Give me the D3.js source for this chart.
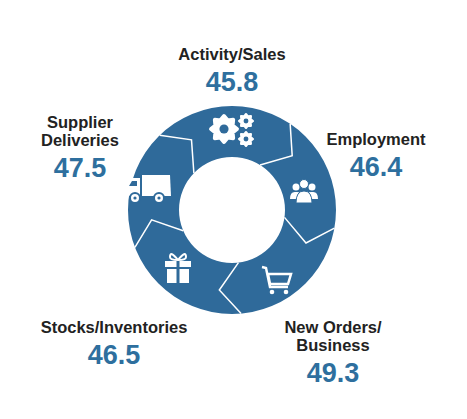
<!DOCTYPE html><html><head><meta charset="utf-8"><script src="https://d3js.org/d3.v7.min.js"></script>
<style>body{margin:0;background:#fff}</style></head><body><svg width="467" height="419"></svg>
<script>
const categories=["Activity/Sales","Employment","New Orders/Business","Stocks/Inventories","Supplier Deliveries"];
const values=[45.8,46.4,49.3,46.5,47.5];
const boundaries=[-45,33,99,174,248];
const labelLines=[["Activity/Sales"],["Employment"],["New Orders/","Business"],["Stocks/Inventories"],["Supplier","Deliveries"]];
const labelPos=[[232,60,"middle"],[376,145,"middle"],[333,333,"middle"],[114,333,"middle"],[80,128,"middle"]];
const svg=d3.select("svg");
const cx=232,cy=210,R=104,r=53,col="#2f6a9a";
const g=svg.append("g").attr("transform",`translate(${cx},${cy})`);
g.append("path").attr("d",d3.arc()({innerRadius:r,outerRadius:R,startAngle:0,endAngle:2*Math.PI})).attr("fill",col);
const rad=d=>d*Math.PI/180, pt=(a,rr)=>[rr*Math.sin(rad(a)),-rr*Math.cos(rad(a))];
boundaries.forEach(b=>{
  g.append("path").attr("d",d3.line()([pt(b-1,r),pt(b+15,81),pt(b+1,R)])).attr("fill","none").attr("stroke","#fff").attr("stroke-width",1.5);
});
const w="#fff";
function gear(x,y,s){const n=8,pts=[];for(let i=0;i<n*2;i++){const a=i*Math.PI/n;const rr=(i%2?0.72:1)*s;pts.push([x+rr*Math.cos(a),y+rr*Math.sin(a)]);}
 svg.append("path").attr("d",d3.line().curve(d3.curveLinearClosed)(pts)).attr("fill",w).attr("stroke",w).attr("stroke-width",s*0.3).attr("stroke-linejoin","round");
 svg.append("circle").attr("cx",x).attr("cy",y).attr("r",s*0.35).attr("fill",col);}
gear(224,129,13);gear(246,121,7);gear(246,139,7);
// people
[[296,194],[312,194]].forEach(([x,y])=>{svg.append("circle").attr("cx",x).attr("cy",y-7).attr("r",3.5).attr("fill",w);svg.append("path").attr("d",`M${x-6},${y+5}Q${x-6},${y-3} ${x},${y-2}Q${x+6},${y-3} ${x+6},${y+5}Z`).attr("fill",w);});
svg.append("circle").attr("cx",304).attr("cy",184).attr("r",4.5).attr("fill",w).attr("stroke",col);
svg.append("path").attr("d","M296,203Q296,191 304,191Q312,191 312,203Z").attr("fill",w).attr("stroke",col);
// cart
svg.append("path").attr("d","M262,267L266,268L270,287L288,287M268,274L291,274L288,284L270,284Z").attr("fill","none").attr("stroke",w).attr("stroke-width",2.5);
svg.append("circle").attr("cx",272).attr("cy",292).attr("r",2.3).attr("fill",w);svg.append("circle").attr("cx",286).attr("cy",292).attr("r",2.3).attr("fill",w);
// gift
svg.append("rect").attr("x",165).attr("y",261).attr("width",26).attr("height",6).attr("fill",w);
svg.append("rect").attr("x",167).attr("y",269).attr("width",22).attr("height",14).attr("fill",w);
svg.append("rect").attr("x",176.5).attr("y",261).attr("width",3).attr("height",22).attr("fill",col);
svg.append("path").attr("d","M178,260Q170,250 170,257Q170,260 178,260Q186,250 186,257Q186,260 178,260").attr("fill","none").attr("stroke",w).attr("stroke-width",2);
// truck
svg.append("path").attr("d","M142,175L170,175L171,196L142,196Z").attr("fill",w);
svg.append("path").attr("d","M126,196L126,186L131,178L140,178L140,196Z").attr("fill",w);
svg.append("path").attr("d","M129,186L132,181L137,181L137,186Z").attr("fill",col);
[[135,198],[159,198]].forEach(([x,y])=>{svg.append("circle").attr("cx",x).attr("cy",y).attr("r",5).attr("fill",w).attr("stroke",col).attr("stroke-width",2);svg.append("circle").attr("cx",x).attr("cy",y).attr("r",1.6).attr("fill",col);});
categories.forEach((c,i)=>{const [x,y,a]=labelPos[i];
 labelLines[i].forEach((l,j)=>svg.append("text").attr("x",x).attr("y",y+j*18).attr("text-anchor",a).attr("font-family","Arial, Liberation Sans, sans-serif").attr("font-weight","bold").attr("font-size",16.5).attr("fill","#222").text(l));
 svg.append("text").attr("x",x).attr("y",y+(labelLines[i].length-1)*18+31).attr("text-anchor",a).attr("font-family","Arial, Liberation Sans, sans-serif").attr("font-weight","bold").attr("font-size",27).attr("fill","#2e6f9e").text(values[i].toFixed(1));
});
</script></body></html>
